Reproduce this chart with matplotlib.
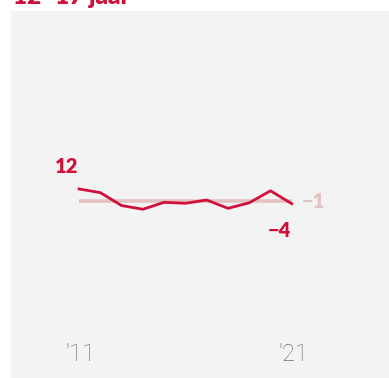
import matplotlib
matplotlib.use("Agg")
import matplotlib.pyplot as plt

# data
years = [2011, 2012, 2013, 2014, 2015, 2016, 2017, 2018, 2019, 2020, 2021]
values = [12, 8, -6, -10, -2.5, -3.5, 0, -9, -3, 10, -4]
ref_value = -1
tick_years = [2011, 2021]
tick_labels = ["'11", "'21"]
title = "12–17 jaar"

red = "#d0103a"
ref_col = "#e3c2c2"

plt.rcParams["font.family"] = ["Lato", "DejaVu Sans"]

fig = plt.figure(figsize=(3.89, 3.78), dpi=100)
ax = fig.add_axes([11 / 389, 0, 378 / 389, 367 / 378])
ax.set_facecolor("#f3f3f3")
ax.set_xlim(2007.8, 2025.57)
ax.set_ylim(-193, 205)

ax.plot([years[0], years[-1]], [ref_value, ref_value], color=ref_col, lw=2.6, solid_capstyle="butt")
ax.plot(years, values, color=red, lw=2.0, solid_joinstyle="round")

ax.text(years[0] - 0.58, values[0] + 24, str(values[0]), color=red, fontsize=14.5,
        fontweight="heavy", ha="center", va="center")
ax.text(years[-1] - 0.6, values[-1] - 29, "\u2212" + str(abs(values[-1])), color=red,
        fontsize=14.5, fontweight="heavy", ha="center", va="center")
ax.text(years[-1] + 1.0, ref_value - 1, "\u2212" + str(abs(ref_value)), color=ref_col,
        fontsize=14.5, fontweight="heavy", ha="center", va="center")

for yr, lab in zip(tick_years, tick_labels):
    ax.text(yr + 0.05, -168, lab, color="#6e6e6e", fontsize=17, family="Roboto",
            fontweight="light", ha="center", va="center")

for s in ax.spines.values():
    s.set_visible(False)
ax.set_xticks([])
ax.set_yticks([])

fig.text(13 / 389, 1 - 4 / 378, title, color=red, fontsize=17.5, fontweight="heavy",
         ha="left", va="baseline")

fig.savefig("out.png", dpi=100, facecolor="white")
